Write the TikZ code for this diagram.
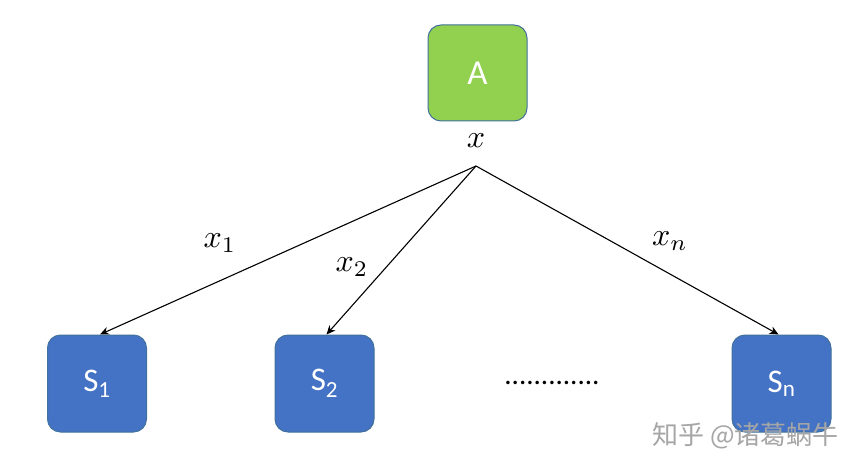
\documentclass[tikz,border=0pt]{standalone}
\usepackage{fontspec}
\setsansfont{Carlito}
\newfontfamily\cjk{Noto Sans CJK SC}
\usetikzlibrary{arrows.meta}
\definecolor{agreen}{HTML}{92D050}
\definecolor{sblue}{HTML}{4472C4}
\definecolor{bord}{HTML}{41719C}
\tikzset{
  boxA/.style={draw=bord, line width=1pt, fill=agreen, rounded corners=13pt, minimum width=99pt, minimum height=96pt, text=white, font=\sffamily\fontsize{35}{38}\selectfont},
  boxS/.style={draw=bord, line width=1pt, fill=sblue, rounded corners=13pt, minimum width=99pt, minimum height=97pt, text=white, font=\sffamily\fontsize{33}{36}\selectfont},
  lab/.style={scale=3.2},
  conn/.style={line width=1.1pt, -{Stealth[length=9pt,width=8pt]}}
}
\begin{document}
\begin{tikzpicture}[x=1pt,y=-1pt]
\useasboundingbox (0,0) rectangle (864,470);
\fill[white] (0,0) rectangle (864,470);
\node[boxA] (A) at (477.5,73) {A};
\node[lab] (xlab) at (476,141) {$x$};
\coordinate (fork) at (476,166);
\node[boxS] (S1) at (97,383.5) {S\textsubscript{1}};
\node[boxS] (S2) at (324.5,383.5) {S\textsubscript{2}};
\node[boxS] (Sn) at (781.5,383.5) {S\textsubscript{n}};
\draw[conn] (fork) -- ([xshift=3pt]S1.north);
\draw[conn] (fork) -- ([xshift=2pt]S2.north);
\draw[conn] (fork) -- ([xshift=-3pt]Sn.north);
\node[lab] (x1) at (220,243) {$x_1$};
\node[lab] (x2) at (352,267) {$x_2$};
\node[lab] (xn) at (670,241) {$x_n$};
\node[font=\sffamily\fontsize{29}{32}\selectfont, inner sep=0pt, anchor=base] (dots) at (552,384) {.............};
\node[font=\cjk\fontsize{26}{30}\selectfont, text=black!35, anchor=west, inner sep=0pt] (wm) at (652,436) {知乎 @诸葛蜗牛};
\end{tikzpicture}
\end{document}
